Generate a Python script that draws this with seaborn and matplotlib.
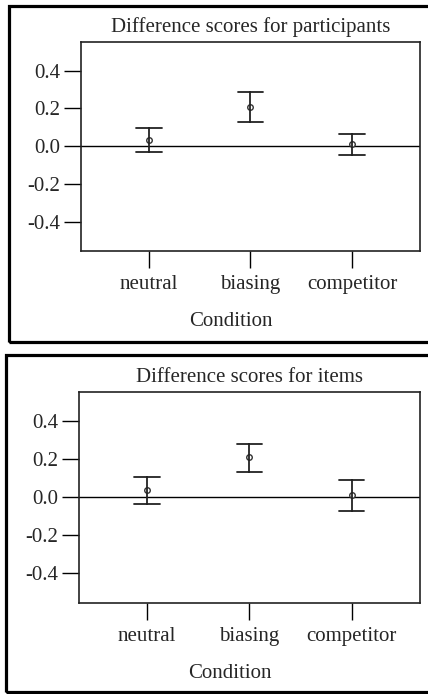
#imports all required libs
import pandas as pd
import matplotlib.pyplot as plt
import seaborn as sns
from matplotlib.patches import Rectangle
from matplotlib.ticker import FormatStrFormatter

#style
sns.set_style('white')
plt.rcParams['font.family'] = ['Liberation Serif', 'DejaVu Serif']
plt.rcParams['axes.unicode_minus'] = False

#data (mean and 95% interval ends)
conditions = ['neutral', 'biasing', 'competitor']

part_mean = [0.034, 0.207, 0.011]
part_lo = [-0.033, 0.127, -0.044]
part_hi = [0.099, 0.288, 0.064]

item_mean = [0.037, 0.209, 0.011]
item_lo = [-0.038, 0.130, -0.072]
item_hi = [0.107, 0.281, 0.093]

titles = ['Difference scores for participants', 'Difference scores for items']
yticks = [-0.4, -0.2, 0.0, 0.2, 0.4]


def long_frame(lo, mean, hi):
    rows = []
    for c, a, m, b in zip(conditions, lo, mean, hi):
        for v in (a, m, b):
            rows.append({'Condition': c, 'score': v})
    return pd.DataFrame(rows)


fig = plt.figure(figsize=(4.28, 6.94), dpi=100)

#axes positions (figure fractions)
positions = [[0.1893, 0.6383, 0.7917, 0.3012],
             [0.1846, 0.1311, 0.7964, 0.3040]]
panels = [(part_lo, part_mean, part_hi), (item_lo, item_mean, item_hi)]

for pos, (lo, mean, hi), title in zip(positions, panels, titles):
    ax = fig.add_axes(pos)
    df = long_frame(lo, mean, hi)
    #median of (lo, mean, hi) is the mean, full range gives the interval
    sns.pointplot(data=df, x='Condition', y='score', order=conditions,
                  estimator='median', errorbar=('pi', 100), capsize=0.25,
                  color='#333333', linestyle='none', marker='o',
                  markersize=4, markerfacecolor='white',
                  markeredgewidth=1.0,
                  err_kws={'linewidth': 1.3, 'color': '#222222'}, ax=ax)
    ax.axhline(0, color='black', lw=1.0, zorder=0)

    ax.set_xlim(-0.667, 2.667)
    ax.set_ylim(-0.555, 0.552)
    ax.set_yticks(yticks)
    ax.yaxis.set_major_formatter(FormatStrFormatter('%.1f'))

    for s in ax.spines.values():
        s.set_visible(True)
        s.set_color('#222222')
        s.set_linewidth(1.2)

    ax.tick_params(axis='both', direction='out', length=12, width=1.0,
                   color='black', labelsize=15, pad=3)
    ax.tick_params(axis='x', length=12.5, pad=5)
    ax.tick_params(left=True, bottom=True)

    ax.set_title(title, fontsize=15, pad=7)
    ax.set_ylabel('')
    ax.set_xlabel('Condition', fontsize=15)
    ax.xaxis.set_label_coords(0.442, -0.29)

#outer frames round each panel
fig.patches.append(Rectangle((0.0199, 0.507), 1.1, 0.485,
                             transform=fig.transFigure, fill=False,
                             edgecolor='black', lw=2.3))
fig.patches.append(Rectangle((0.0129, 0.0029), 1.1, 0.4856,
                             transform=fig.transFigure, fill=False,
                             edgecolor='black', lw=2.3))

plt.savefig('out.png', dpi=100)
